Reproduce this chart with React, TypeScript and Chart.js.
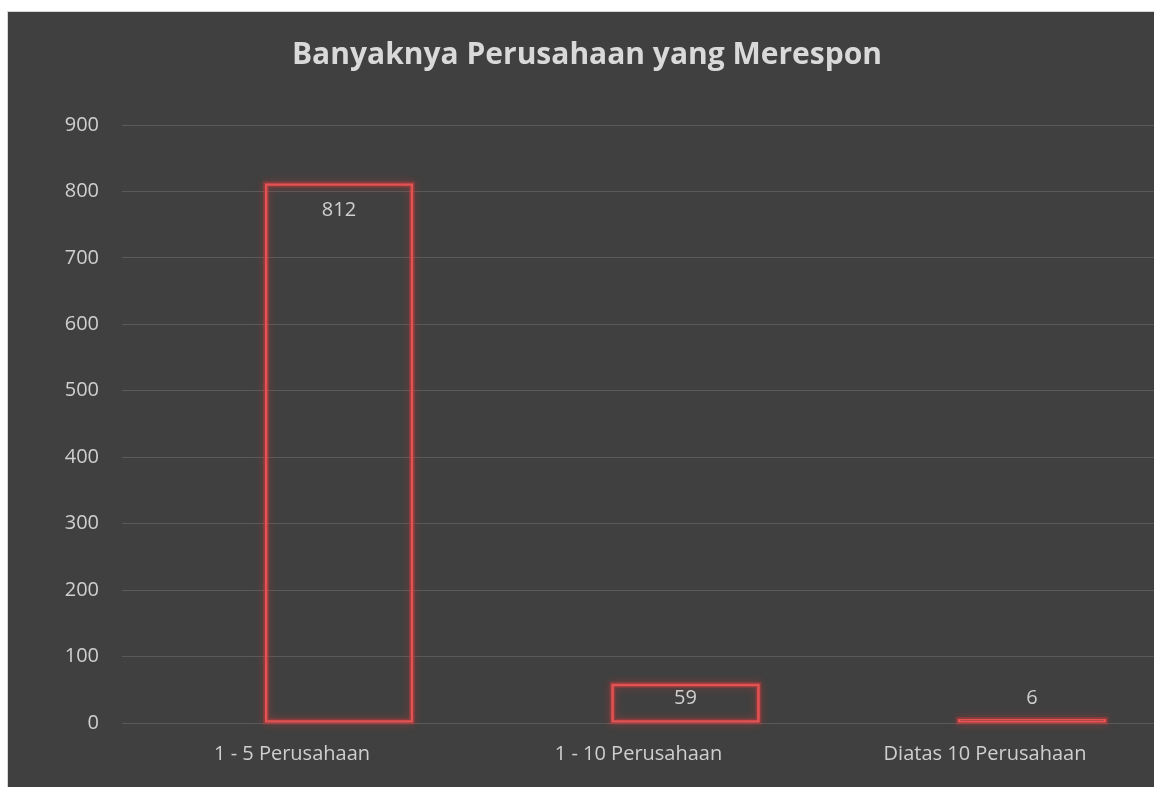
import React, { useEffect, useRef } from "react";
import { Chart, registerables } from "chart.js";

Chart.register(...registerables);

const categories = ["1 - 5 Perusahaan", "1 - 10 Perusahaan", "Diatas 10 Perusahaan"];
const values = [812, 59, 6];
const yTicks = [0, 100, 200, 300, 400, 500, 600, 700, 800, 900];
const title = "Banyaknya Perusahaan yang Merespon";

const TEXT = "#cfcfcf";
const BG = "#404040";
const FONT = "'Open Sans'";

const glowPlugin = {
  id: "glow",
  beforeDatasetsDraw(chart: any) {
    const ctx = chart.ctx;
    const meta = chart.getDatasetMeta(0);
    ctx.save();
    ctx.shadowColor = "rgba(230,55,55,0.7)";
    ctx.shadowBlur = 9;
    ctx.strokeStyle = "rgba(190,60,60,0.45)";
    ctx.lineWidth = 6;
    meta.data.forEach((bar: any) => {
      const left = bar.x - bar.width / 2;
      const top = Math.min(bar.y, bar.base);
      const h = Math.abs(bar.base - bar.y);
      ctx.strokeRect(left + 1, top + 1, bar.width - 2, h - 2);
    });
    ctx.restore();
  },
};

const labelPlugin = {
  id: "valueLabels",
  afterDraw(chart: any) {
    const ctx = chart.ctx;
    const meta = chart.getDatasetMeta(0);
    const base = chart.scales.y.getPixelForValue(0);
    ctx.save();
    ctx.fillStyle = TEXT;
    ctx.font = `20px ${FONT}`;
    ctx.textAlign = "center";
    ctx.textBaseline = "middle";
    meta.data.forEach((bar: any, i: number) => {
      const y = Math.min(bar.y + 27, base - 25);
      ctx.fillText(String(values[i]), bar.x, y);
    });
    ctx.restore();
  },
};

export default function App() {
  const ref = useRef<HTMLCanvasElement | null>(null);

  useEffect(() => {
    if (!ref.current) return;
    const chart = new Chart(ref.current, {
      type: "bar",
      data: {
        datasets: [
          {
            data: values.map((v, i) => ({ x: i, y: v })),
            backgroundColor: "rgba(0,0,0,0)",
            borderColor: "#e35353",
            borderWidth: 2,
            borderSkipped: false,
            barThickness: 148,
          },
        ],
      },
      options: {
        animation: false,
        responsive: false,
        maintainAspectRatio: false,
        layout: { padding: 0 },
        plugins: {
          legend: { display: false },
          tooltip: { enabled: false },
          title: {
            display: true,
            text: title,
            color: "#d9d9d9",
            font: { family: FONT, size: 30, weight: "bold" },
            padding: { top: 25, bottom: 52 },
          },
        },
        scales: {
          x: {
            type: "linear",
            offset: false,
            min: -0.6263,
            max: 2.3867,
            grid: { display: false, drawTicks: false },
            border: { display: false },
            afterBuildTicks: (scale: any) => {
              scale.ticks = categories.map((_, i) => ({ value: i }));
            },
            afterFit: (scale: any) => {
              scale.height = 64;
            },
            ticks: {
              color: TEXT,
              font: { family: FONT, size: 20 },
              padding: 19,
              labelOffset: -47,
              maxRotation: 0,
              autoSkip: false,
              callback: (v: any) => categories[v as number] ?? "",
            },
          },
          y: {
            min: 0,
            max: 900,
            afterBuildTicks: (scale: any) => {
              scale.ticks = yTicks.map((v) => ({ value: v }));
            },
            afterFit: (scale: any) => {
              scale.width = 114;
            },
            grid: { color: "#5a5a5a", lineWidth: 1, drawTicks: false },
            border: { display: false },
            ticks: {
              color: TEXT,
              font: { family: FONT, size: 20 },
              padding: 23,
            },
          },
        },
      },
      plugins: [glowPlugin, labelPlugin],
    });
    return () => chart.destroy();
  }, []);

  return (
    <div
      style={{
        position: "fixed",
        left: 7,
        top: 11,
        width: 1147,
        height: 776,
        overflow: "hidden",
        borderTop: "1px solid #d6d6d6",
        borderLeft: "1px solid #d6d6d6",
        background: BG,
        boxSizing: "border-box",
      }}
    >
      <canvas ref={ref} width={1158} height={775} style={{ display: "block" }} />
    </div>
  );
}
